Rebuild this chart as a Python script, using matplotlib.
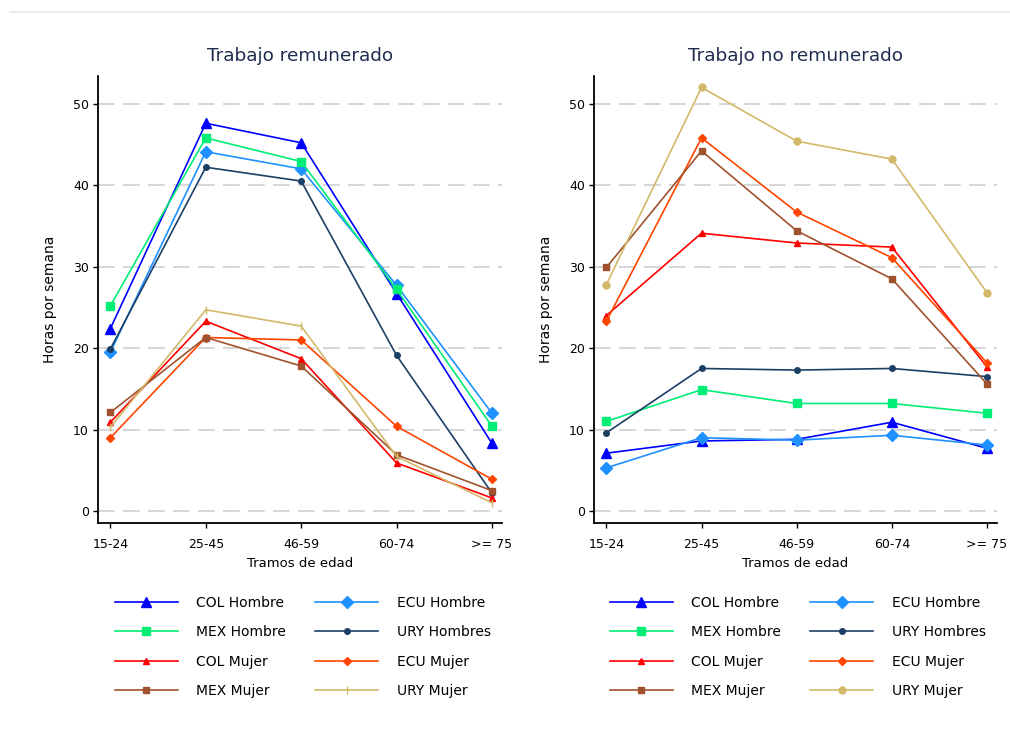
import numpy as np
import matplotlib.pyplot as plt
from matplotlib.lines import Line2D

plt.rcParams['font.family'] = ['DejaVu Sans']

# Data
tramos = ['15-24', '25-45', '46-59', '60-74', '>= 75']
series = ['COL Hombre', 'ECU Hombre', 'MEX Hombre', 'URY Hombres',
          'COL Mujer', 'ECU Mujer', 'MEX Mujer', 'URY Mujer']

# Trabajo remunerado
rem_col_h = [22.4, 47.6, 45.2, 26.7, 8.3]
rem_ecu_h = [19.5, 44.1, 42.0, 27.7, 12.0]
rem_mex_h = [25.2, 45.8, 42.9, 27.2, 10.4]
rem_ury_h = [19.9, 42.2, 40.5, 19.1, 2.2]
rem_col_m = [10.9, 23.3, 18.7, 5.9, 1.6]
rem_ecu_m = [9.0, 21.3, 21.0, 10.4, 3.9]
rem_mex_m = [12.1, 21.3, 17.8, 6.9, 2.5]
rem_ury_m = [10.3, 24.7, 22.7, 6.7, 1.0]

# Trabajo no remunerado
nrem_col_h = [7.1, 8.6, 8.8, 10.9, 7.7]
nrem_ecu_h = [5.3, 9.0, 8.7, 9.3, 8.1]
nrem_mex_h = [11.0, 14.9, 13.2, 13.2, 12.0]
nrem_ury_h = [9.6, 17.5, 17.3, 17.5, 16.5]
nrem_col_m = [24.0, 34.1, 32.9, 32.4, 17.7]
nrem_ecu_m = [23.3, 45.8, 36.7, 31.1, 18.2]
nrem_mex_m = [29.9, 44.2, 34.4, 28.5, 15.6]
nrem_ury_m = [27.8, 52.0, 45.4, 43.2, 26.8]

# styles: color, marker, size
styles = {
    'COL Hombre': ('#0000ff', '^', 6.5),
    'ECU Hombre': ('#1e90ff', 'D', 6.5),
    'MEX Hombre': ('#00ee76', 's', 6),
    'URY Hombres': ('#1c3f66', 'o', 4),
    'COL Mujer': ('#ff0000', '^', 5),
    'ECU Mujer': ('#ff4500', 'D', 4),
    'MEX Mujer': ('#a0522d', 's', 5),
    'URY Mujer': ('#d2b96a', '|', 5),
}

W, H = 1010, 737
fig = plt.figure(figsize=(W / 100, H / 100), dpi=100)
fig.add_artist(Line2D([0.01, 1.0], [1 - 12 / H, 1 - 12 / H], color='#e3eaef', lw=1.2))

ax1 = fig.add_axes([98 / W, 1 - 523 / H, (502 - 98) / W, (523 - 76) / H])
ax2 = fig.add_axes([594 / W, 1 - 523 / H, (997 - 594) / W, (523 - 76) / H])

x = np.arange(len(tramos))
panels = [
    (ax1, 'Trabajo remunerado',
     [rem_col_h, rem_ecu_h, rem_mex_h, rem_ury_h, rem_col_m, rem_ecu_m, rem_mex_m, rem_ury_m], '|', 115),
    (ax2, 'Trabajo no remunerado',
     [nrem_col_h, nrem_ecu_h, nrem_mex_h, nrem_ury_h, nrem_col_m, nrem_ecu_m, nrem_mex_m, nrem_ury_m], 'o', 610),
]

legend_order = ['COL Hombre', 'MEX Hombre', 'COL Mujer', 'MEX Mujer',
                'ECU Hombre', 'URY Hombres', 'ECU Mujer', 'URY Mujer']

for ax, title, vals, ury_marker, leg_x in panels:
    handles = {}
    for name, y in zip(series, vals):
        c, m, ms = styles[name]
        if name == 'URY Mujer':
            m = ury_marker
            ms = 5 if m == 'o' else 6
        h, = ax.plot(x, y, color=c, marker=m, markersize=ms, lw=1.2,
                     markeredgecolor=c, label=name)
        handles[name] = h
    ax.set_xlim(-0.13, 4.105)
    ax.set_ylim(-1.47, 53.4)
    ax.set_yticks([0, 10, 20, 30, 40, 50])
    ax.set_xticks(x)
    ax.set_xticklabels(tramos)
    ax.yaxis.grid(True, ls=(0, (10, 5)), color='#d0d0d0', lw=1.2)
    ax.set_axisbelow(True)
    for s in ['top', 'right']:
        ax.spines[s].set_visible(False)
    for s in ['left', 'bottom']:
        ax.spines[s].set_linewidth(1.3)
    ax.tick_params(labelsize=9, length=3.5, width=1, colors='black')
    ax.tick_params(axis='x', pad=7)
    ax.tick_params(axis='y', pad=3)
    ax.set_title(title, fontsize=13.3, color='#1f2d4f', pad=11)
    ax.set_xlabel('Tramos de edad', fontsize=9.5, va='top')
    ax.xaxis.set_label_coords(0.5, -0.076)
    ax.set_ylabel('Horas por semana', fontsize=10)
    ax.yaxis.set_label_coords(-0.102, 0.5)
    ax.legend([handles[n] for n in legend_order], legend_order, ncol=2,
              loc='upper left', bbox_to_anchor=(leg_x / W, 1 - 596 / H),
              bbox_transform=fig.transFigure, frameon=False, borderpad=0,
              borderaxespad=0, fontsize=10, handlelength=4.5, handletextpad=1.35,
              columnspacing=2.1, labelspacing=1.1)

fig.savefig('out.png', dpi=100, facecolor='white')
